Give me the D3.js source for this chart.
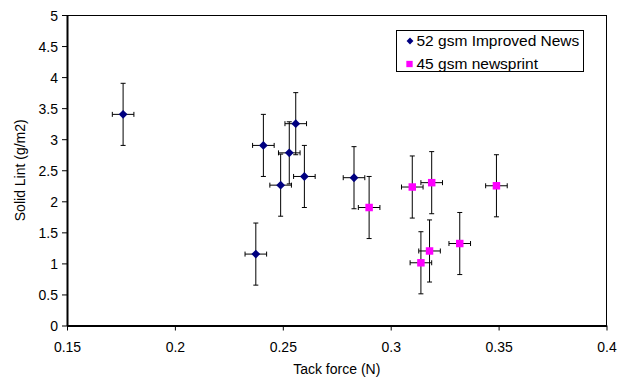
<!DOCTYPE html>
<html>
<head>
<meta charset="utf-8">
<script src="https://cdn.jsdelivr.net/npm/d3@7"></script>
<style>
  body { margin: 0; background: #fff; }
  svg { display: block; font-family: "Liberation Sans", Arial, sans-serif; }
</style>
</head>
<body>
<svg id="chart" width="626" height="379"></svg>
<script>
// values
const improvedX = [0.176, 0.2375, 0.241, 0.249, 0.253, 0.256, 0.260, 0.283]
const improvedY = [3.40, 1.15, 2.90, 2.26, 2.78, 3.25, 2.40, 2.38]
const newsprintX = [0.290, 0.310, 0.319, 0.349, 0.314, 0.318, 0.332]
const newsprintY = [1.90, 2.23, 2.30, 2.25, 1.01, 1.20, 1.32]
const xError = 0.005
const yError = 0.5
const xTicks = [0.15, 0.2, 0.25, 0.3, 0.35, 0.4]
const yTicks = [0, 0.5, 1, 1.5, 2, 2.5, 3, 3.5, 4, 4.5, 5]
const seriesNames = ["52 gsm Improved News", "45 gsm newsprint"]

const svg = d3.select("#chart")

const plotLeft = 67, plotRight = 606.5, plotTop = 15, plotBottom = 325.5

const x = d3.scaleLinear().domain([0.15, 0.4]).range([plotLeft, plotRight])
const y = d3.scaleLinear().domain([0, 5]).range([plotBottom, plotTop])

// frame
svg.append("line")
    .attr("x1", plotLeft).attr("x2", plotRight).attr("y1", plotTop + 0.5).attr("y2", plotTop + 0.5)
    .attr("stroke", "#000").attr("stroke-width", 1)
svg.append("line")
    .attr("x1", plotRight).attr("x2", plotRight).attr("y1", plotTop).attr("y2", plotBottom)
    .attr("stroke", "#000").attr("stroke-width", 1)

const xAxis = svg.append("g")
    .attr("transform", `translate(0,${plotBottom})`)
    .call(d3.axisBottom(x).tickValues(xTicks).tickFormat(d3.format("")).tickSize(5).tickSizeOuter(0))
const yAxis = svg.append("g")
    .attr("transform", `translate(${plotLeft},0)`)
    .call(d3.axisLeft(y).tickValues(yTicks).tickFormat(d3.format("")).tickSize(5).tickSizeOuter(0))

for (const ax of [xAxis, yAxis]) {
    ax.select(".domain").attr("stroke", "#000").attr("stroke-width", 2)
    ax.selectAll(".tick line").attr("stroke", "#000")
    ax.selectAll(".tick text")
        .attr("fill", "#000")
        .style("font-size", "14px")
        .style("font-family", "'Liberation Sans', Arial, sans-serif")
}
xAxis.selectAll(".tick text").attr("dy", "0").attr("y", 26)
yAxis.selectAll(".tick text").attr("x", -9).attr("dy", "0.36em")

// axis titles
svg.append("text")
    .attr("x", (plotLeft + plotRight) / 2).attr("y", 374)
    .attr("text-anchor", "middle")
    .style("font-size", "14px")
    .text("Tack force (N)")
svg.append("text")
    .attr("transform", `translate(25,${(plotTop + plotBottom) / 2}) rotate(-90)`)
    .attr("text-anchor", "middle")
    .style("font-size", "14px")
    .text("Solid Lint (g/m2)")

function errorBars(xs, ys) {
    const g = svg.append("g").attr("stroke", "#000").attr("stroke-width", 1)
    xs.forEach((v, i) => {
        const cx = x(v), cy = y(ys[i])
        const y0 = y(ys[i] - yError), y1 = y(ys[i] + yError)
        const x0 = x(v - xError), x1 = x(v + xError)
        g.append("line").attr("x1", cx).attr("x2", cx).attr("y1", y0).attr("y2", y1)
        g.append("line").attr("x1", cx - 2.5).attr("x2", cx + 2.5).attr("y1", y0).attr("y2", y0)
        g.append("line").attr("x1", cx - 2.5).attr("x2", cx + 2.5).attr("y1", y1).attr("y2", y1)
        g.append("line").attr("x1", x0).attr("x2", x1).attr("y1", cy).attr("y2", cy)
        g.append("line").attr("x1", x0).attr("x2", x0).attr("y1", cy - 2.5).attr("y2", cy + 2.5)
        g.append("line").attr("x1", x1).attr("x2", x1).attr("y1", cy - 2.5).attr("y2", cy + 2.5)
    })
}

errorBars(improvedX, improvedY)
errorBars(newsprintX, newsprintY)

const diamond = d3.symbol().type(d3.symbolDiamond2).size(50)
const square = d3.symbol().type(d3.symbolSquare).size(56)

svg.append("g").selectAll("path")
    .data(improvedX)
    .join("path")
    .attr("d", diamond)
    .attr("transform", (d, i) => `translate(${x(d)},${y(improvedY[i])})`)
    .attr("fill", "#000080")

svg.append("g").selectAll("path")
    .data(newsprintX)
    .join("path")
    .attr("d", square)
    .attr("transform", (d, i) => `translate(${x(d)},${y(newsprintY[i])})`)
    .attr("fill", "#ff00ff")

// legend
const legend = svg.append("g")
legend.append("rect")
    .attr("x", 396.5).attr("y", 30.5).attr("width", 187).attr("height", 41)
    .attr("fill", "#fff").attr("stroke", "#000")
legend.append("path")
    .attr("d", d3.symbol().type(d3.symbolDiamond2).size(30))
    .attr("transform", "translate(410,41)")
    .attr("fill", "#000080")
legend.append("path")
    .attr("d", d3.symbol().type(d3.symbolSquare).size(40))
    .attr("transform", "translate(409.5,64)")
    .attr("fill", "#ff00ff")
legend.selectAll("text")
    .data(seriesNames)
    .join("text")
    .attr("x", 416.5)
    .attr("y", (d, i) => 46 + i * 23)
    .style("font-size", "15.5px")
    .text(d => d)
</script>
</body>
</html>
